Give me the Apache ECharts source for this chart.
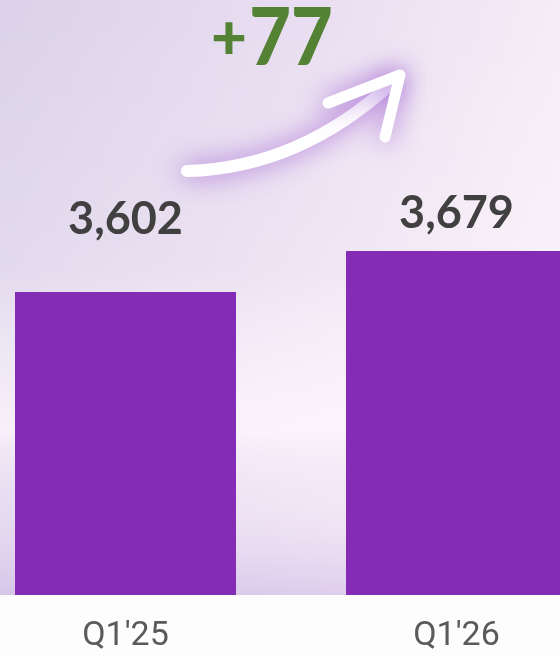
<!DOCTYPE html>
<html>
<head>
<meta charset="utf-8">
<script src="https://cdn.jsdelivr.net/npm/echarts@6/dist/echarts.min.js"></script>
<style>
  html, body { margin: 0; padding: 0; background: #fdfdfd; overflow: hidden; }
  /* the right bar runs off the edge of the picture, so the chart is wider than the page */
  #bar { position: absolute; left: -40px; top: 0; width: 662px; height: 656px; }
</style>
</head>
<body>
<div id="bar"></div>
<script>
var categories = ["Q1'25", "Q1'26"];
var values = [3602, 3679];
// label distance above each bar (the two labels sit at different heights)
var labelDist = [50, 15];

var myChart = echarts.init(document.getElementById('bar'));

var diff = values[1] - values[0];

var option = {
    animation: false,
    backgroundColor: '#fdfdfd',
    grid: {
        left: 0,
        right: 0,
        top: 0,
        bottom: 61
    },
    xAxis: {
        type: 'category',
        data: categories,
        axisLine: { show: false },
        axisTick: { show: false },
        axisLabel: {
            margin: 24,
            fontFamily: 'Roboto',
            fontSize: 34,
            color: '#5a5a5a'
        }
    },
    yAxis: {
        type: 'value',
        min: 3033,
        max: 4150,
        show: false,
        splitLine: { show: false }
    },
    graphic: [{
        type: 'group',
        x: 40,
        y: 0,
        children: [
            {   // background haze
                type: 'rect',
                z: -10,
                silent: true,
                shape: { x: 0, y: 0, width: 560, height: 595 },
                style: {
                    fill: new echarts.graphic.LinearGradient(0, 0, 1, 0.3, [
                        { offset: 0, color: '#dbd2e9' },
                        { offset: 0.5, color: '#e9def1' },
                        { offset: 1, color: '#f8eff8' }
                    ])
                }
            },
            {
                type: 'rect',
                z: -9,
                silent: true,
                shape: { x: 0, y: 0, width: 560, height: 595 },
                style: {
                    fill: new echarts.graphic.LinearGradient(0, 0, 0, 1, [
                        { offset: 0, color: 'rgba(255,255,255,0)' },
                        { offset: 0.45, color: 'rgba(255,255,255,0.1)' },
                        { offset: 0.72, color: 'rgba(255,248,255,0.75)' },
                        { offset: 0.85, color: 'rgba(240,228,246,0.3)' },
                        { offset: 1, color: 'rgba(205,180,228,0.55)' }
                    ])
                }
            },
            {   // arrow shaft
                type: 'bezierCurve',
                z: 5,
                silent: true,
                shape: { x1: 187, y1: 171, cpx1: 300, cpy1: 168, x2: 393, y2: 82 },
                style: {
                    fill: null,
                    stroke: '#ffffff',
                    lineWidth: 12,
                    lineCap: 'round',
                    shadowColor: 'rgba(150,80,205,0.8)',
                    shadowBlur: 26
                }
            },
            {   // arrow head
                type: 'polyline',
                z: 5,
                silent: true,
                shape: { points: [[328, 103], [400, 75], [385, 137]] },
                style: {
                    fill: null,
                    stroke: '#ffffff',
                    lineWidth: 11,
                    lineCap: 'round',
                    lineJoin: 'round',
                    shadowColor: 'rgba(150,80,205,0.8)',
                    shadowBlur: 26
                }
            },
            {
                type: 'text',
                z: 6,
                x: 229,
                y: 39,
                style: {
                    text: diff > 0 ? '+' : '-',
                    fontFamily: 'Lato',
                    fontWeight: 900,
                    fontSize: 62,
                    fill: '#548235',
                    align: 'center',
                    verticalAlign: 'middle'
                }
            },
            {
                type: 'text',
                z: 6,
                x: 291,
                y: 39,
                scaleX: 0.9,
                style: {
                    text: String(Math.abs(diff)),
                    fontFamily: 'Lato',
                    fontWeight: 900,
                    fontSize: 80,
                    fill: '#548235',
                    align: 'center',
                    verticalAlign: 'middle'
                }
            }
        ]
    }],
    series: [
        {
            type: 'bar',
            barWidth: 221,
            itemStyle: { color: '#842cb6' },
            label: {
                show: true,
                position: 'top',
                fontFamily: 'Lato',
                fontWeight: 'bold',
                fontSize: 45,
                color: '#404040',
                formatter: function (p) {
                    return p.value.toLocaleString('en-US');
                }
            },
            data: values.map(function (v, i) {
                return { value: v, label: { distance: labelDist[i] } };
            })
        }
    ]
};

myChart.setOption(option);
</script>
</body>
</html>
